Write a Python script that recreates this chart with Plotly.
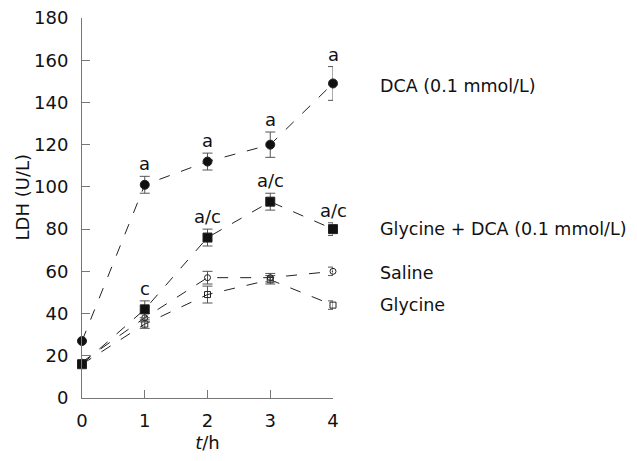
import plotly.graph_objects as go

# data
hours = [0, 1, 2, 3, 4]

dca = [27, 101, 112, 120, 149]
dca_err = [0, 4, 4, 6, 8]

gly_dca = [16, 42, 76, 93, 80]
gly_dca_err = [0, 4, 4, 4, 3]

saline = [17, 38, 57, 57, 60]
saline_err = [0, 2, 3, 2, 2]

glycine = [16, 35, 49, 56, 44]
glycine_err = [0, 2, 4, 2, 2]

dca_marks = ["", "a", "a", "a", "a"]
gly_dca_marks = ["", "c", "a/c", "a/c", "a/c"]

series_names = ["DCA (0.1 mmol/L)", "Glycine + DCA (0.1 mmol/L)", "Saline", "Glycine"]
label_y = [148, 80, 59, 44]

FONT = "DejaVu Sans"
LINE = "#222222"
AXIS = "#777777"

fig = go.Figure()

def add_series(y, err, symbol, size, fill):
    fig.add_trace(go.Scatter(
        x=hours, y=y,
        mode="lines+markers",
        line=dict(color=LINE, width=1, dash="11px,12px"),
        marker=dict(symbol=symbol, size=size, color=fill,
                    line=dict(color=LINE, width=1)),
        error_y=dict(type="data", array=err, visible=True,
                     color="#555555", thickness=1, width=5),
        showlegend=False, cliponaxis=False,
    ))

add_series(glycine, glycine_err, "square-open", 6, LINE)
add_series(saline, saline_err, "circle-open", 6, LINE)
add_series(gly_dca, gly_dca_err, "square", 9, "#111111")
add_series(dca, dca_err, "circle", 9, "#111111")

# significance letters above points
for x, y, e, t in zip(hours, dca, dca_err, dca_marks):
    if t:
        fig.add_annotation(x=x, y=y + e, text=t, showarrow=False,
                           yanchor="bottom", yshift=0,
                           font=dict(family=FONT, size=18, color="#111"))
for x, y, e, t in zip(hours, gly_dca, gly_dca_err, gly_dca_marks):
    if t:
        fig.add_annotation(x=x, y=y + e, text=t, showarrow=False,
                           yanchor="bottom", yshift=0,
                           font=dict(family=FONT, size=18, color="#111"))

# series labels on the right
for name, y in zip(series_names, label_y):
    fig.add_annotation(x=1.178, xref="paper", y=y, text=name, showarrow=False,
                       xanchor="left", yanchor="middle",
                       font=dict(family=FONT, size=17.5, color="#111"))

# y title as a rotated annotation so it can sit closer to the page edge
fig.add_annotation(x=-0.239, xref="paper", y=95, text="LDH (U/L)",
                   textangle=-90, showarrow=False,
                   xanchor="center", yanchor="middle",
                   font=dict(family=FONT, size=18, color="#111"))

fig.update_xaxes(range=[0, 4], tickvals=hours, showline=True,
                 linecolor=AXIS, linewidth=1, ticks="inside",
                 tickcolor=AXIS, ticklen=8, showgrid=False, zeroline=False,
                 automargin=False, ticklabelstandoff=6,
                 ticklabeloverflow="allow",
                 title=dict(text="<i>t</i>/h", standoff=6,
                            font=dict(family=FONT, size=18, color="#111")),
                 tickfont=dict(family=FONT, size=18, color="#111"))
fig.update_yaxes(range=[0, 180], tickvals=list(range(0, 181, 20)),
                 showline=True, linecolor=AXIS, linewidth=1,
                 ticks="inside", tickcolor=AXIS, ticklen=8,
                 showgrid=False, zeroline=False,
                 automargin=False, ticklabelstandoff=9,
                 ticklabeloverflow="allow",
                 tickfont=dict(family=FONT, size=18, color="#111"))

# the page adds an 8px body margin, so the margins are shifted to compensate
fig.update_layout(width=637, height=461,
                  margin=dict(l=74, r=312, t=10, b=71),
                  plot_bgcolor="white", paper_bgcolor="white")

fig.write_html("out.html")
